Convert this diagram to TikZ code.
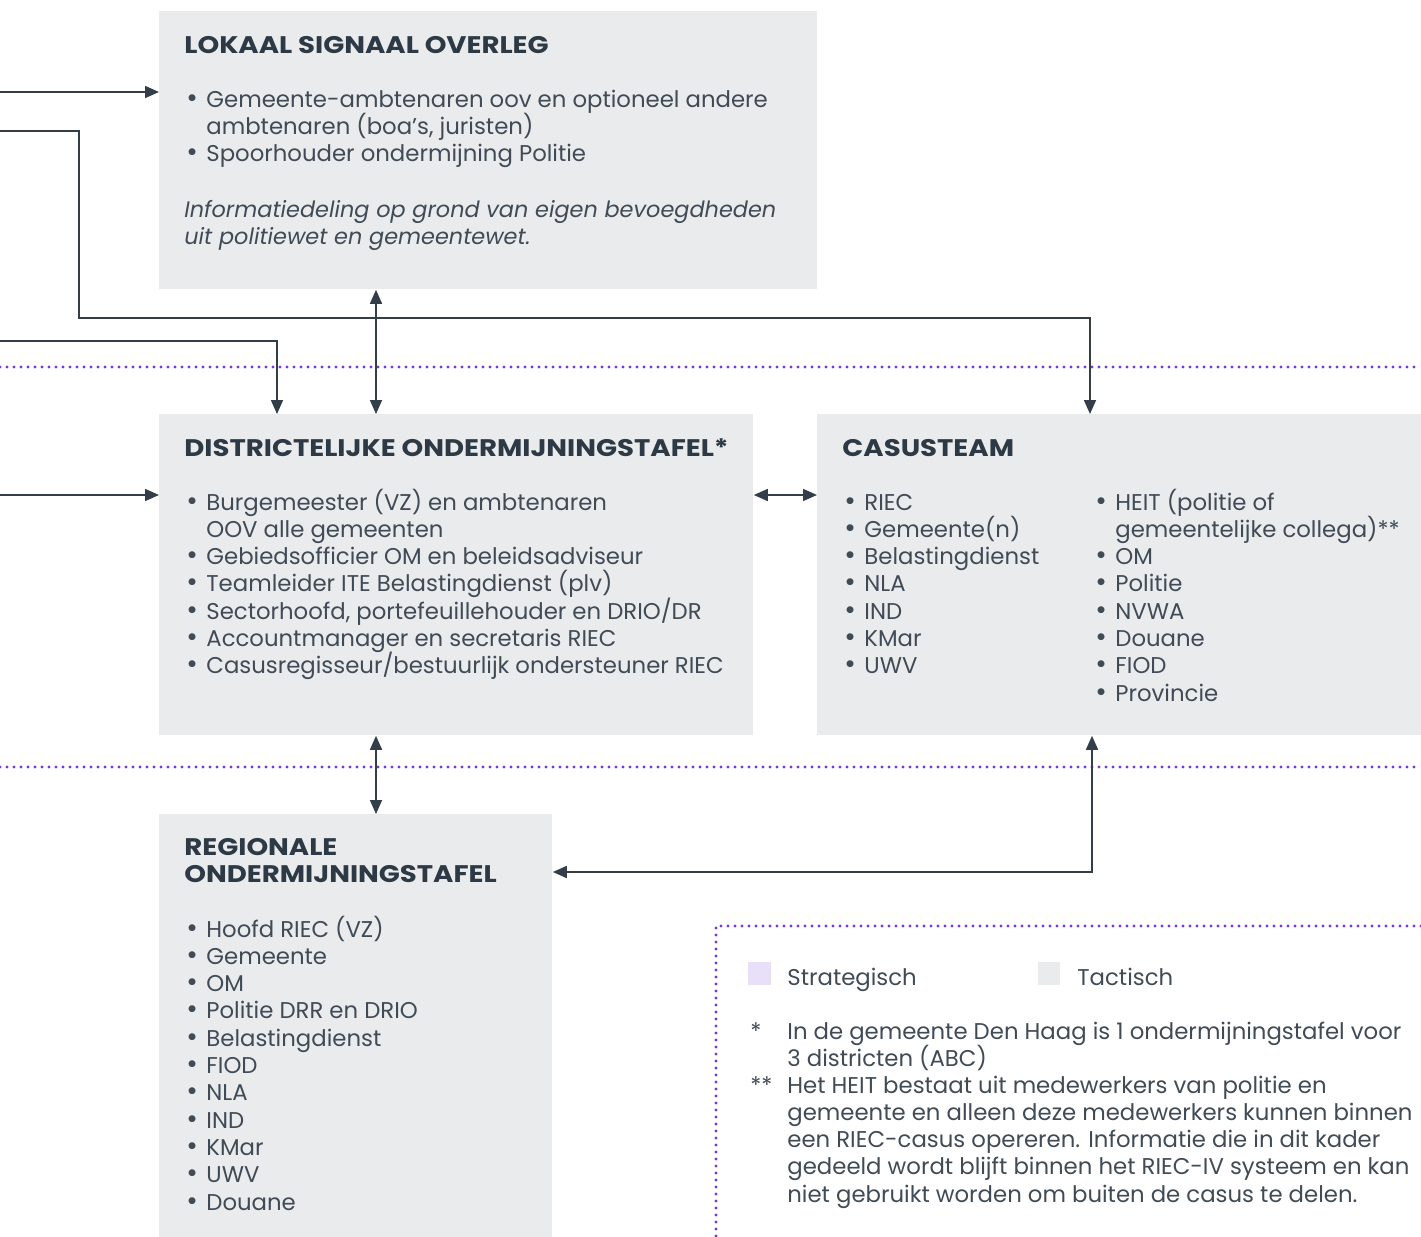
\documentclass[tikz,border=0pt]{standalone}
\usepackage{fontspec}
\setmainfont{Poppins}
\usetikzlibrary{arrows.meta, positioning, calc}
\usepackage{xcolor}

\definecolor{tactgray}{HTML}{E9EBED}
\definecolor{stratlila}{HTML}{E8E0F8}
\definecolor{linecol}{HTML}{333E48}
\definecolor{purp}{HTML}{7B35E0}
\definecolor{bodycol}{HTML}{404B56}
\definecolor{titlecol}{HTML}{2D3A45}

\newcommand{\itm}{\makebox[11pt][l]{\hspace{1pt}{\fontsize{14}{13.65}\selectfont\textbullet}}}
\newcommand{\cont}{\hspace*{11pt}}
\newcommand{\lines}[1]{\vtop{\baselineskip=13.65pt\lineskiplimit=-100pt\let\\\cr\halign{##\hfil\cr#1\crcr}}}

\begin{document}
\begin{tikzpicture}[x=0.5pt, y=-0.5pt, >={Triangle[length=7pt,width=6pt]}]

		% Define block styles
		\tikzstyle{box} = [rectangle, fill=tactgray, draw=none, inner sep=0pt, anchor=north west]
		\tikzstyle{ttl} = [anchor=base west, inner sep=0pt, text=titlecol, font=\fontsize{12}{13.65}\selectfont\bfseries\addfontfeatures{FakeStretch=1.15}]
		\tikzstyle{txt} = [anchor=base west, inner sep=0pt, text=bodycol, font=\fontsize{11.4}{13.65}\selectfont]
		\tikzstyle{link} = [draw=linecol, line width=0.8pt]
		\tikzstyle{sep} = [draw=purp, line width=1.6pt, line cap=round, dash pattern=on 0pt off 3.5pt]

		\useasboundingbox (0,0) rectangle (1421,1237);

		% Nodes
		\node[box, minimum width=329pt, minimum height=139pt] (lso) at (159,11) {};
		\node[box, minimum width=297pt, minimum height=160.5pt] (dot) at (159,414) {};
		\node[box, minimum width=302pt, minimum height=160.5pt] (cas) at (817,414) {};
		\node[box, minimum width=196.5pt, minimum height=211.5pt] (rot) at (159,814) {};

		% Free ends and helper points
		\coordinate (inA) at (0,92);
		\coordinate (inB) at (0,131);
		\coordinate (kneeB) at (79,318);
		\coordinate (casin) at (1090,414);
		\coordinate (inC) at (0,341);
		\coordinate (dotin) at (277,414);
		\coordinate (axis) at (376,0);
		\coordinate (inD) at (0,495);
		\coordinate (casout) at (1092,872);

		% Dividers
		\draw[sep] (0,367) -- (1421,367);
		\draw[sep] (0,767) -- (1421,767);
		\draw[sep] (1421,926) -- (716,926) -- (716,1237);

		% Arrows
		\draw[link, ->] (inA) -- (inA -| lso.west);
		\draw[link, ->] (inB) -| (kneeB) -| (casin);
		\draw[link, ->] (inC) -| (dotin);
		\draw[link, <->] (lso.south -| axis) -- (dot.north -| axis);
		\draw[link, ->] (inD) -- (inD -| dot.west);
		\draw[link, <->] (inD -| dot.east) -- (inD -| cas.west);
		\draw[link, <->] (dot.south -| axis) -- (rot.north -| axis);
		\draw[link, <->] (cas.south -| casout) |- (rot.east |- casout);

		% Labels
		\node[ttl] (lsotitle) at (184,53) {LOKAAL SIGNAAL OVERLEG};
		\node[txt] (lsolist) at (184,107) {\lines{\itm Gemeente-ambtenaren oov en optioneel andere\\
			\cont ambtenaren (boa's, juristen)\\
			\itm Spoorhouder ondermijning Politie}};
		\node[txt, font=\fontsize{11.2}{13.65}\selectfont\itshape] (lsonote) at (184,217) {\lines{Informatiedeling op grond van eigen bevoegdheden\\
			uit politiewet en gemeentewet.}};

		\node[ttl] (dottitle) at (184,456) {DISTRICTELIJKE ONDERMIJNINGSTAFEL*};
		\node[txt] (dotlist) at (184,510) {\lines{\itm Burgemeester (VZ) en ambtenaren\\
			\cont OOV alle gemeenten\\
			\itm Gebiedsofficier OM en beleidsadviseur\\
			\itm Teamleider ITE Belastingdienst (plv)\\
			\itm Sectorhoofd, portefeuillehouder en DRIO/DR\\
			\itm Accountmanager en secretaris RIEC\\
			\itm Casusregisseur/bestuurlijk ondersteuner RIEC}};

		\node[ttl] (castitle) at (842,456) {CASUSTEAM};
		\node[txt] (caslistA) at (842,510) {\lines{\itm RIEC\\ \itm Gemeente(n)\\ \itm Belastingdienst\\
			\itm NLA\\ \itm IND\\ \itm KMar\\ \itm UWV}};
		\node[txt] (caslistB) at (1093,510) {\lines{\itm HEIT (politie of\\
			\cont gemeentelijke collega)**\\ \itm OM\\ \itm Politie\\ \itm NVWA\\
			\itm Douane\\ \itm FIOD\\ \itm Provincie}};

		\node[ttl] (rottitle) at (184,855) {\lines{REGIONALE\\ ONDERMIJNINGSTAFEL}};
		\node[txt] (rotlist) at (184,937) {\lines{\itm Hoofd RIEC (VZ)\\ \itm Gemeente\\ \itm OM\\
			\itm Politie DRR en DRIO\\ \itm Belastingdienst\\ \itm FIOD\\ \itm NLA\\
			\itm IND\\ \itm KMar\\ \itm UWV\\ \itm Douane}};

		% Legend
		\fill[stratlila] (748,962) rectangle (771,985);
		\fill[tactgray] (1038,962) rectangle (1060,985);
		\node[txt] (strat) at (787,985) {Strategisch};
		\node[txt] (tact) at (1077,985) {Tactisch};
		\node[txt] (starA) at (750,1039) {*};
		\node[txt] (noteA) at (787,1039) {\lines{In de gemeente Den Haag is 1 ondermijningstafel voor\\
			3 districten (ABC)}};
		\node[txt] (starB) at (750,1093) {**};
		\node[txt] (noteB) at (787,1093) {\lines{Het HEIT bestaat uit medewerkers van politie en\\
			gemeente en alleen deze medewerkers kunnen binnen\\
			een RIEC-casus opereren. Informatie die in dit kader\\
			gedeeld wordt blijft binnen het RIEC-IV systeem en kan\\
			niet gebruikt worden om buiten de casus te delen.}};

\end{tikzpicture}
\end{document}
